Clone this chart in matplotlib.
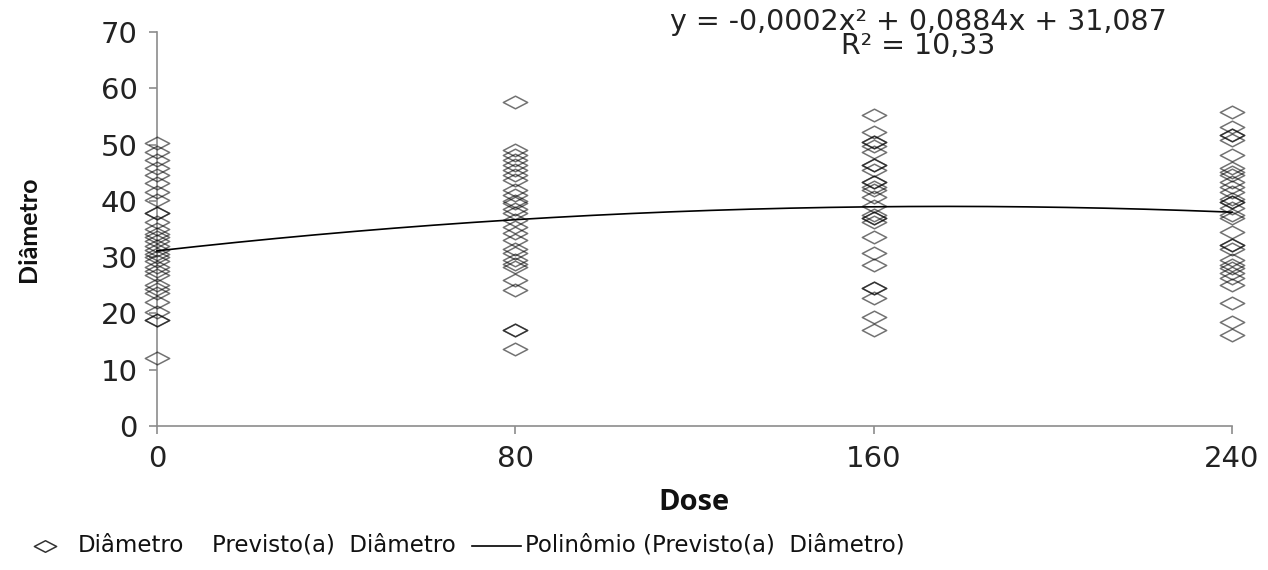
import numpy as np
import matplotlib
matplotlib.use("Agg")
import matplotlib.pyplot as plt
from matplotlib.path import Path
from matplotlib.lines import Line2D

# ---- data ----
doses = [0, 80, 160, 240]
d0 = [50.3, 48.7, 47.2, 45.8, 44.6, 43.1, 41.6, 40.1, 37.8, 37.8, 36.3, 35.0,
      34.2, 33.5, 32.8, 32.0, 31.2, 30.6, 30.0, 29.3, 28.3, 27.5, 26.8, 25.0,
      24.3, 23.6, 22.1, 20.3, 18.8, 18.8, 12.0]
d80 = [57.6, 49.0, 48.1, 47.2, 46.3, 45.5, 44.6, 43.7, 41.9, 41.0, 40.0, 39.6,
       38.5, 37.8, 36.6, 35.4, 34.3, 33.0, 31.5, 30.7, 29.5, 28.8, 28.3, 25.9,
       24.2, 17.0, 17.0, 13.7]
d160 = [55.2, 52.3, 50.5, 50.5, 49.8, 48.7, 46.4, 46.4, 45.5, 43.4, 43.4, 42.5,
        41.9, 40.7, 39.0, 37.5, 36.9, 36.9, 36.3, 33.6, 30.7, 28.6, 24.5, 24.5,
        22.7, 19.4, 17.1]
d240 = [55.8, 53.2, 51.7, 51.7, 50.8, 48.1, 45.8, 45.2, 44.6, 43.4, 42.5, 41.6,
        40.4, 39.8, 39.8, 38.7, 37.5, 36.9, 34.5, 32.1, 32.1, 31.5, 29.5, 28.6,
        28.0, 27.1, 26.3, 25.0, 21.8, 18.5, 16.2]
observed = [d0, d80, d160, d240]
predicted = [31.1, 36.7, 38.9, 38.0]   # predicted values per dose (trend basis)

x_ticks = [0, 80, 160, 240]
y_ticks = [0, 10, 20, 30, 40, 50, 60, 70]
equation = "y = -0,0002x\u00b2 + 0,0884x + 31,087"
r2_text = "R\u00b2 = 10,33"
legend_labels = ["Diâmetro", "Previsto(a)  Diâmetro", "Polinômio (Previsto(a)  Diâmetro)"]

# ---- figure ----
W, H = 1268, 570
fig = plt.figure(figsize=(W/100, H/100), dpi=100)
ax = fig.add_axes([157/W, 1-426/H, (1232-157)/W, (426-32)/H])

diamond = Path([(-1, 0), (0, 0.52), (1, 0), (0, -0.52), (-1, 0)],
               [Path.MOVETO, Path.LINETO, Path.LINETO, Path.LINETO, Path.CLOSEPOLY])

for dose, vals in zip(doses, observed):
    ax.plot([dose]*len(vals), vals, linestyle='none', marker=diamond,
            markersize=17.5, markerfacecolor='none', markeredgecolor=(0, 0, 0, 0.55),
            markeredgewidth=1.1, clip_on=False, zorder=3)

coef = np.polyfit(doses, predicted, 2)
xs = np.linspace(doses[0], doses[-1], 300)
ax.plot(xs, np.polyval(coef, xs), color='black', lw=1.2, zorder=4, clip_on=False)

ax.set_xlim(0, 240)
ax.set_ylim(0, 70)
ax.set_xticks(x_ticks)
ax.set_yticks(y_ticks)
ax.set_xticklabels([str(v) for v in x_ticks], fontsize=21, family='DejaVu Sans', color='#222222')
ax.set_yticklabels([str(v) for v in y_ticks], fontsize=21, family='DejaVu Sans', color='#222222')
for s in ['top', 'right']:
    ax.spines[s].set_visible(False)
for s in ['left', 'bottom']:
    ax.spines[s].set_color('#8c8c8c')
    ax.spines[s].set_linewidth(1.2)
ax.tick_params(axis='both', direction='out', length=6, width=1.2, color='#8c8c8c')
ax.tick_params(axis='y', pad=8)
ax.tick_params(axis='x', pad=8)

fig.text(28/W, 1-229/H, "Diâmetro", rotation=90, ha='center', va='center',
         fontsize=18, fontweight='bold', family='Lato', color='#111111')
fig.text(694/W, 1-503/H, "Dose", ha='center', va='center',
         fontsize=21, fontweight='bold', family='Open Sans', color='#111111')

fig.text(918/W, 1-34/H, equation + "\n" + r2_text, ha='center', va='center',
         multialignment='center', linespacing=0.85,
         fontsize=20.5, family='DejaVu Sans', color='#222222')

# ---- legend (drawn at the reference's positions) ----
ly = 1-546/H
base = 1-552/H
fs_leg = 16.5
fig.add_artist(Line2D([45/W], [ly], transform=fig.transFigure, linestyle='none',
                      marker=diamond, markersize=16, markerfacecolor='none',
                      markeredgecolor='#333333', markeredgewidth=1.1))
fig.text(78/W, base, legend_labels[0], ha='left', va='baseline', fontsize=fs_leg,
         family='DejaVu Sans', color='#111111')
fig.text(212/W, base, legend_labels[1], ha='left', va='baseline', fontsize=fs_leg,
         family='DejaVu Sans', color='#111111')
fig.add_artist(Line2D([472/W, 521/W], [ly, ly], transform=fig.transFigure,
                      color='black', lw=1.2))
fig.text(525/W, base, legend_labels[2], ha='left', va='baseline', fontsize=fs_leg,
         family='DejaVu Sans', color='#111111')

fig.savefig("out.png", dpi=100, facecolor='white')
